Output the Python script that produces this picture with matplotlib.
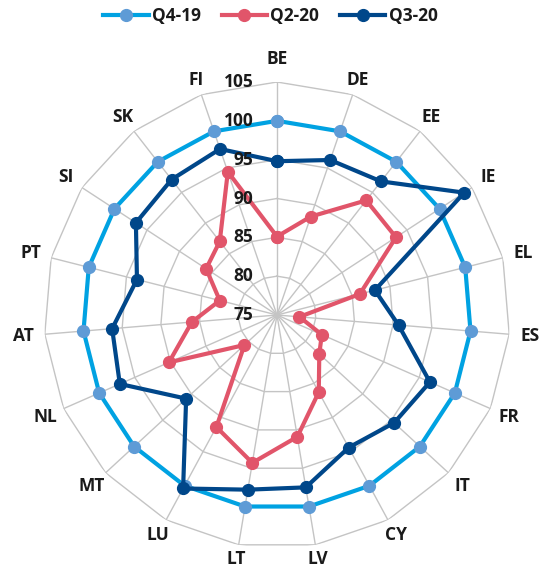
import numpy as np
import matplotlib as mpl
import matplotlib.pyplot as plt
from matplotlib.lines import Line2D


COUNTRIES = ["BE", "DE", "EE", "IE", "EL", "ES", "FR", "IT", "CY", "LV",
             "LT", "LU", "MT", "NL", "AT", "PT", "SI", "SK", "FI"]
Q4_19 = [100] * 19
Q2_20 = [85.1, 88.4, 93.7, 93.3, 86.0, 77.9, 81.3, 82.4, 86.3, 90.9,
         94.3, 91.4, 80.7, 90.2, 86.0, 82.6, 85.9, 87.0, 94.5]
Q3_20 = [94.8, 96.1, 96.8, 103.8, 88.0, 90.7, 96.5, 95.5, 94.4, 97.5,
         97.8, 100.4, 90.9, 97.1, 96.3, 93.6, 96.7, 97.1, 97.6]
RINGS = [80, 85, 90, 95, 100, 105]
R_MIN = 75

COLORS = {
    "q4_line": "#00A2E2",
    "q4_marker": "#5E9BD6",
    "q2": "#E1556A",
    "q3": "#00478A",
    "grid": "#C4C4C4",
    "text": "#1A1A1A",
}

RADIUS_PX = 233  # pixels from centre to the 105 ring


def apply_style():
    mpl.rcParams.update({
        "font.family": ["Open Sans", "DejaVu Sans"],
        "font.weight": "bold",
        "font.size": 12.5,
        "text.color": COLORS["text"],
    })


def closed(vals):
    return list(vals) + [vals[0]]


def px_to_r(px):
    return R_MIN + px / RADIUS_PX * (105 - R_MIN)


def main():
    apply_style()
    fig = plt.figure(figsize=(5.41, 5.67), dpi=100)
    ax = fig.add_axes([44 / 541, 19 / 567, 466 / 541, 466 / 567], projection="polar")
    ax.set_theta_offset(np.pi / 2)
    ax.set_theta_direction(-1)
    ax.set_ylim(R_MIN, 105)
    ax.grid(False)
    ax.spines["polar"].set_visible(False)
    ax.set_xticks([])
    ax.set_yticks([])
    ax.patch.set_alpha(0)

    n = len(COUNTRIES)
    theta = np.arange(n) * 2 * np.pi / n
    th_c = closed(theta)

    # polygon grid + spokes
    for r in RINGS:
        ax.plot(th_c, [r] * (n + 1), color=COLORS["grid"], lw=1.0, zorder=1)
    for t in theta:
        ax.plot([t, t], [R_MIN, 105], color=COLORS["grid"], lw=1.0, zorder=1)

    ax.plot(th_c, closed(Q4_19), color=COLORS["q4_line"], lw=3.0, marker="o",
            ms=8.5, mfc=COLORS["q4_marker"], mec=COLORS["q4_marker"], zorder=3)
    ax.plot(th_c, closed(Q2_20), color=COLORS["q2"], lw=3.0, marker="o",
            ms=8.5, zorder=4)
    ax.plot(th_c, closed(Q3_20), color=COLORS["q3"], lw=3.0, marker="o",
            ms=8.5, zorder=5)

    # radial tick labels along the BE spoke
    for r in [R_MIN] + RINGS:
        ax.annotate(str(r), (0, r), xytext=(-17, 0), textcoords="offset points",
                    ha="right", va="center", zorder=6)

    # category labels, a bit further out on the sides than top/bottom
    for i, (t, name) in enumerate(zip(theta, COUNTRIES)):
        dist = 256 if i == 0 else 246 + 8 * abs(np.sin(t))
        ax.text(t, px_to_r(dist), name, ha="center", va="center", clip_on=False)

    handles = [
        Line2D([], [], color=COLORS["q4_line"], lw=3.0, marker="o", ms=8.5,
               mfc=COLORS["q4_marker"], mec=COLORS["q4_marker"]),
        Line2D([], [], color=COLORS["q2"], lw=3.0, marker="o", ms=8.5),
        Line2D([], [], color=COLORS["q3"], lw=3.0, marker="o", ms=8.5),
    ]
    fig.legend(handles, ["Q4-19", "Q2-20", "Q3-20"], loc="center",
               bbox_to_anchor=(0.5, 1 - 16 / 567), ncol=3, frameon=False,
               handlelength=2.6, handletextpad=0.2, columnspacing=1.2)

    fig.savefig("out.png", dpi=100)
    plt.close(fig)


if __name__ == "__main__":
    main()
